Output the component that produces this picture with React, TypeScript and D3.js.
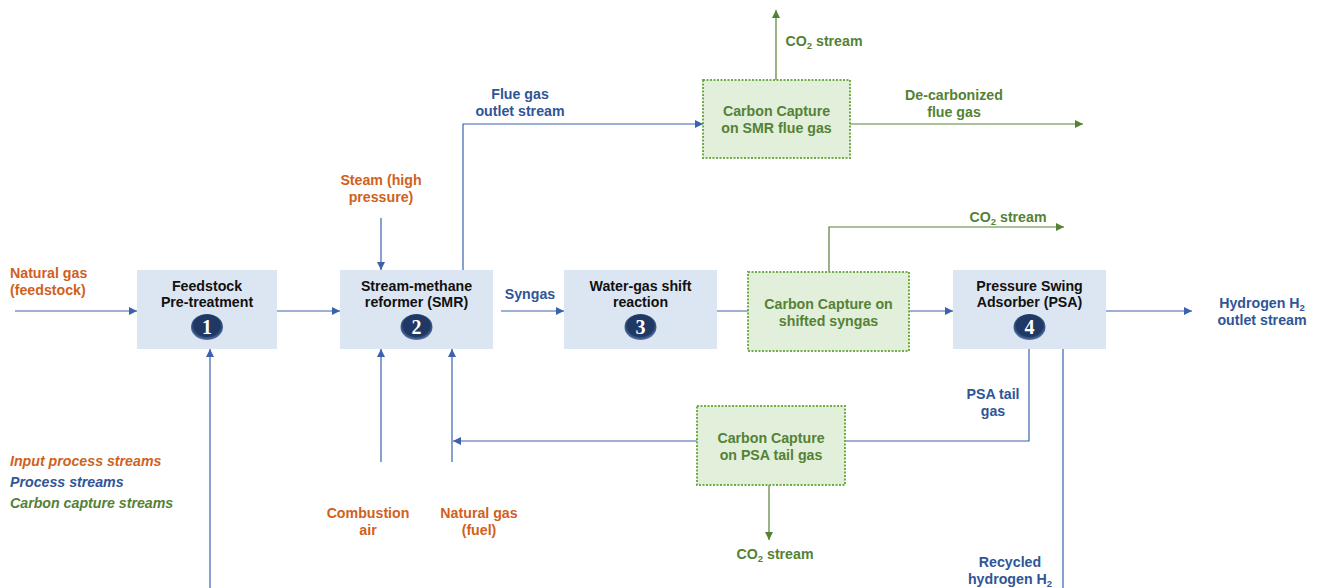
import React from "react";
import * as d3 from "d3";

const W = 1319;
const H = 588;

const BLUE_TEXT = "#2f5597";
const BLUE_LINE = "#3a62ad";
const GREEN = "#548235";
const GREEN_BORDER = "#70ad47";
const ORANGE = "#d0611c";

// Process steps (blue boxes)
const processNames = [
  ["Feedstock", "Pre-treatment"],
  ["Stream-methane", "reformer (SMR)"],
  ["Water-gas shift", "reaction"],
  ["Pressure Swing", "Adsorber (PSA)"],
];
const processNumbers = ["1", "2", "3", "4"];
const processX0 = [137, 340, 564, 953];
const processX1 = [277, 493, 717, 1106];

// Carbon capture steps (green boxes)
const captureNames = [
  ["Carbon Capture", "on SMR flue gas"],
  ["Carbon Capture on", "shifted syngas"],
  ["Carbon Capture", "on PSA tail gas"],
];
const captureX0 = [703, 748, 697];
const captureX1 = [850, 909, 845];
const captureY0 = [80, 272, 406];
const captureY1 = [158, 351, 485];

type Seg = { pts: [number, number][]; color: string; arrow: boolean };
const flows: Seg[] = [
  { pts: [[15, 311], [137, 311]], color: BLUE_LINE, arrow: true },
  { pts: [[277, 311], [340, 311]], color: BLUE_LINE, arrow: true },
  { pts: [[501, 311], [564, 311]], color: BLUE_LINE, arrow: true },
  { pts: [[717, 311], [953, 311]], color: BLUE_LINE, arrow: true },
  { pts: [[1106, 311], [1192, 311]], color: BLUE_LINE, arrow: true },
  { pts: [[463, 270], [463, 124], [703, 124]], color: BLUE_LINE, arrow: true },
  { pts: [[381, 218], [381, 270]], color: BLUE_LINE, arrow: true },
  { pts: [[381, 462], [381, 349]], color: BLUE_LINE, arrow: true },
  { pts: [[452, 462], [452, 349]], color: BLUE_LINE, arrow: true },
  { pts: [[210, 588], [210, 349]], color: BLUE_LINE, arrow: true },
  { pts: [[1029, 349], [1029, 441], [453, 441]], color: BLUE_LINE, arrow: true },
  { pts: [[1063, 349], [1063, 588]], color: BLUE_LINE, arrow: false },
  { pts: [[850, 124], [1083, 124]], color: GREEN, arrow: true },
  { pts: [[776, 80], [776, 10]], color: GREEN, arrow: true },
  { pts: [[829, 272], [829, 227], [1064, 227]], color: GREEN, arrow: true },
  { pts: [[769, 485], [769, 540]], color: GREEN, arrow: true },
];

type Lbl = { lines: string[]; x: number; y: number; color: string; anchor: string };
const labels: Lbl[] = [
  { lines: ["Natural gas", "(feedstock)"], x: 10, y: 278, color: ORANGE, anchor: "start" },
  { lines: ["Steam (high", "pressure)"], x: 381, y: 185, color: ORANGE, anchor: "middle" },
  { lines: ["Combustion", "air"], x: 368, y: 518, color: ORANGE, anchor: "middle" },
  { lines: ["Natural gas", "(fuel)"], x: 479, y: 518, color: ORANGE, anchor: "middle" },
  { lines: ["Flue gas", "outlet stream"], x: 520, y: 99, color: BLUE_TEXT, anchor: "middle" },
  { lines: ["Syngas"], x: 530, y: 299, color: BLUE_TEXT, anchor: "middle" },
  { lines: ["Hydrogen H_2", "outlet stream"], x: 1262, y: 308, color: BLUE_TEXT, anchor: "middle" },
  { lines: ["PSA tail", "gas"], x: 993, y: 399, color: BLUE_TEXT, anchor: "middle" },
  { lines: ["Recycled", "hydrogen H_2"], x: 1010, y: 567, color: BLUE_TEXT, anchor: "middle" },
  { lines: ["De-carbonized", "flue gas"], x: 954, y: 100, color: GREEN, anchor: "middle" },
  { lines: ["CO_2 stream"], x: 824, y: 46, color: GREEN, anchor: "middle" },
  { lines: ["CO_2 stream"], x: 1008, y: 222, color: GREEN, anchor: "middle" },
  { lines: ["CO_2 stream"], x: 775, y: 559, color: GREEN, anchor: "middle" },
];

const legendItems = ["Input process streams", "Process streams", "Carbon capture streams"];
const legendColors = [ORANGE, BLUE_TEXT, GREEN];

const FONT = "'Liberation Sans', Arial, sans-serif";
const FS = 14.2;
const LINE_H = 17;

function RichLine({ text }: { text: string }) {
  const parts = text.split("_");
  if (parts.length === 1) return <>{text}</>;
  const sub = parts[1].charAt(0);
  const rest = parts[1].slice(1);
  return (
    <>
      {parts[0]}
      <tspan fontSize={9.5} dy={3}>{sub}</tspan>
      <tspan dy={-3}>{rest}</tspan>
    </>
  );
}

export default function App() {
  const line = d3.line();
  const boxY0 = 270;
  const boxY1 = 349;
  return (
    <svg
      width={W}
      height={H}
      style={{ position: "absolute", left: 0, top: 0, background: "#fff" }}
      fontFamily={FONT}
      fontWeight="bold"
      fontSize={FS}
    >
      <defs>
        <marker id="ab" viewBox="0 0 10 10" refX={10} refY={5} markerWidth={9} markerHeight={8} markerUnits="userSpaceOnUse" orient="auto">
          <path d="M0,0 L10,5 L0,10 z" fill={BLUE_LINE} />
        </marker>
        <marker id="ag" viewBox="0 0 10 10" refX={10} refY={5} markerWidth={9} markerHeight={8} markerUnits="userSpaceOnUse" orient="auto">
          <path d="M0,0 L10,5 L0,10 z" fill={GREEN} />
        </marker>
        <radialGradient id="circ" cx="50%" cy="45%" r="55%">
          <stop offset="75%" stopColor="#1f3864" />
          <stop offset="100%" stopColor="#5a7bb0" />
        </radialGradient>
      </defs>

      {flows.map((f, i) => (
        <path
          key={i}
          d={line(f.pts) || ""}
          fill="none"
          stroke={f.color}
          strokeWidth={1.2}
          markerEnd={f.arrow ? (f.color === GREEN ? "url(#ag)" : "url(#ab)") : undefined}
        />
      ))}

      {processNames.map((names, i) => {
        const x0 = processX0[i];
        const x1 = processX1[i];
        const cx = (x0 + x1) / 2;
        return (
          <g key={i}>
            <rect x={x0} y={boxY0} width={x1 - x0} height={boxY1 - boxY0} fill="#dce6f2" />
            {names.map((t, j) => (
              <text key={j} x={cx} y={boxY0 + 21 + j * 16} textAnchor="middle" fill="#111">
                {t}
              </text>
            ))}
            <ellipse cx={cx} cy={327} rx={16} ry={13} fill="url(#circ)" />
            <text x={cx} y={334} textAnchor="middle" fill="#fff" fontFamily="'Liberation Serif', 'DejaVu Serif', serif" fontSize={20}>
              {processNumbers[i]}
            </text>
          </g>
        );
      })}

      {captureNames.map((names, i) => {
        const x0 = captureX0[i];
        const x1 = captureX1[i];
        const y0 = captureY0[i];
        const y1 = captureY1[i];
        const cx = (x0 + x1) / 2;
        const cy = (y0 + y1) / 2;
        return (
          <g key={i}>
            <rect
              x={x0}
              y={y0}
              width={x1 - x0}
              height={y1 - y0}
              fill="#e2efda"
              stroke={GREEN_BORDER}
              strokeWidth={2}
              strokeDasharray="2,1.5"
            />
            {names.map((t, j) => (
              <text key={j} x={cx} y={cy - 3 + j * 17} textAnchor="middle" fill={GREEN}>
                {t}
              </text>
            ))}
          </g>
        );
      })}

      {labels.map((l, i) => (
        <text key={i} x={l.x} y={l.y} textAnchor={l.anchor as any} fill={l.color}>
          {l.lines.map((t, j) => (
            <tspan key={j} x={l.x} y={l.y + j * LINE_H}>
              <RichLine text={t} />
            </tspan>
          ))}
        </text>
      ))}

      {legendItems.map((t, i) => (
        <text key={i} x={10} y={466 + i * 21} fill={legendColors[i]} fontStyle="italic">
          {t}
        </text>
      ))}
    </svg>
  );
}
